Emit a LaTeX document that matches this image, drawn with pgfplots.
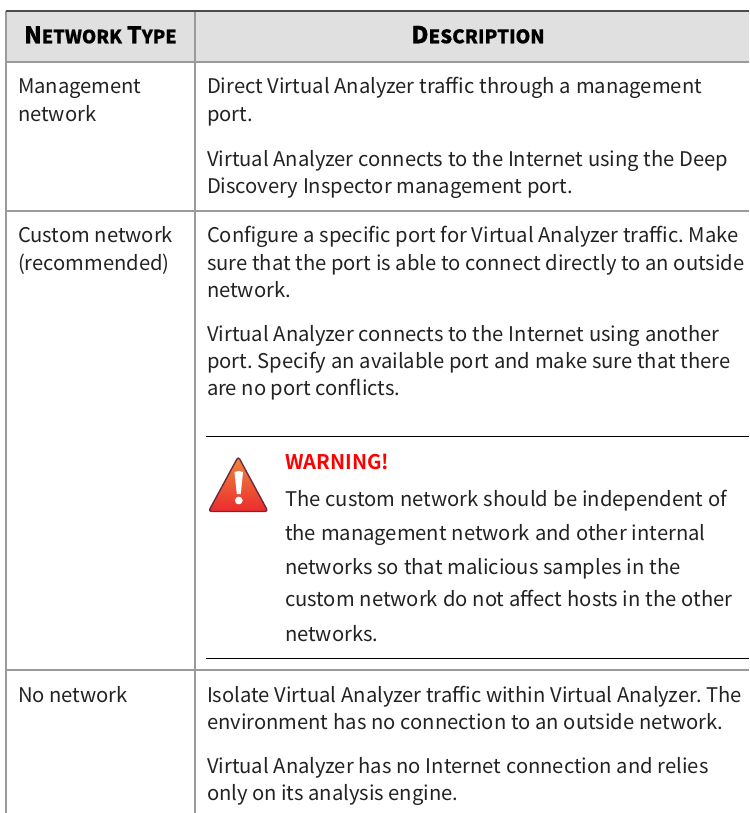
\documentclass[border=0pt]{standalone}
\usepackage{pgfplots}
\pgfplotsset{compat=1.18}
\usepackage{fontspec}
\setmainfont{Noto Sans CJK JP}[BoldFont={Noto Sans CJK JP Bold}]
\newfontfamily\hb{Noto Sans CJK JP Black}[FakeBold=0.6]
\definecolor{hdr}{HTML}{E0E0E0}
\definecolor{rule}{HTML}{9A9A9A}
\definecolor{txt}{HTML}{222222}
\definecolor{icontop}{HTML}{EE8A3C}
\definecolor{iconbot}{HTML}{EC2A2E}
\definecolor{iconedge}{HTML}{6E2A3C}
\frenchspacing
\newcommand{\T}[3]{\node[anchor=base west,inner sep=0pt,outer sep=0pt,text=txt,font=\fontsize{20.2}{20}\selectfont] at (axis cs:#1,#2) {#3};}
\newcommand{\Ln}[4]{\node[anchor=base west,inner sep=0pt,outer sep=0pt,text=txt,font=\fontsize{20.2}{20}\selectfont] at (axis cs:#1,#2) {\pgfmathsetmacro{\lnw}{#3-#1}\spaceskip=0.22em plus 1em minus 0.15em\makebox[\lnw pt][s]{#4}};}
\newcommand{\SC}[2]{{\fontsize{23.4}{20}\selectfont #1}{\fontsize{18.7}{20}\selectfont #2}}
\begin{document}
\begin{tikzpicture}
\useasboundingbox (0,0) rectangle (749pt,813pt);
\begin{axis}[scale only axis,width=749pt,height=813pt,xmin=0,xmax=749,ymin=0,ymax=813,y dir=reverse,hide axis,clip=true,axis line style={draw=none}]
\addplot[fill=hdr,draw=none] coordinates {(6,11)(749,11)(749,62)(6,62)} --cycle;
\addplot[rule,line width=1.2pt] coordinates {(195,11)(195,813)};
\addplot[rule,line width=1.2pt] coordinates {(6,62)(749,62)};
\addplot[rule,line width=1.2pt] coordinates {(6,211)(749,211)};
\addplot[rule,line width=1.2pt] coordinates {(6,670)(749,670)};
\addplot[rule,line width=1.2pt] coordinates {(6,11)(6,813)};
\addplot[black!70,line width=1.5pt] coordinates {(6,11)(749,11)};
\addplot[black,line width=1pt] coordinates {(206,436)(749,436)};
\addplot[black,line width=1pt] coordinates {(206,658.5)(749,658.5)};
\addplot[shade,top color=icontop,bottom color=iconbot,draw=iconedge,line width=1.4pt,line join=round,rounded corners=3pt] coordinates {(238.3,456.5)(268,511.5)(208.5,511.5)} --cycle;
\addplot[fill=white,draw=none] coordinates {(234.5,472)(238.8,471)(243,472)(240.8,494)(236.8,494)} --cycle;
\addplot[only marks,mark=*,mark size=3.6pt,mark options={draw=white,fill=white}] coordinates {(238.8,500.5)};
\node[anchor=base,inner sep=0pt,font=\hb\color{black}] at (axis cs:100.5,43.3) {{\fontsize{23}{20}\selectfont N}{\fontsize{18.2}{20}\selectfont ETWORK}\hspace{5pt}{\fontsize{23}{20}\selectfont T}{\fontsize{18.2}{20}\selectfont YPE}};
\node[anchor=base,inner sep=0pt,font=\hb\color{black}] at (axis cs:478,43.3) {\SC{D}{ESCRIPTION}};
\T{18}{94}{Management}
\T{18}{122}{network}
\Ln{207}{94}{702}{Direct Virtual Analyzer traffic through a management}
\T{207}{122}{port.}
\Ln{207}{166.7}{728.5}{Virtual Analyzer connects to the Internet using the Deep}
\Ln{207}{193.3}{573}{Discovery Inspector management port.}
\Ln{18}{242.7}{173}{Custom network}
\T{18}{270}{(recommended)}
\Ln{207}{242.7}{738.5}{Configure a specific port for Virtual Analyzer traffic. Make}
\Ln{207}{270}{744.5}{sure that the port is able to connect directly to an outside}
\T{207}{297}{network.}
\Ln{207}{341.7}{719.5}{Virtual Analyzer connects to the Internet using another}
\Ln{207}{368.5}{730.5}{port. Specify an available port and make sure that there}
\T{207}{395.5}{are no port conflicts.}
\node[anchor=base west,inner sep=0pt,text=red,font=\fontsize{20.2}{20}\selectfont\bfseries] at (axis cs:285,469) {WARNING!};
\Ln{285}{506.7}{727.5}{The custom network should be independent of}
\Ln{285}{540}{705.5}{the management network and other internal}
\Ln{285}{574}{680.5}{networks so that malicious samples in the}
\Ln{285}{606.7}{732.5}{custom network do not affect hosts in the other}
\T{285}{641}{networks.}
\T{18}{702.7}{No network}
\Ln{207}{702.7}{742}{Isolate Virtual Analyzer traffic within Virtual Analyzer. The}
\Ln{207}{729}{723.5}{environment has no connection to an outside network.}
\Ln{207}{773}{708.5}{Virtual Analyzer has no Internet connection and relies}
\T{207}{800.5}{only on its analysis engine.}
\end{axis}
\end{tikzpicture}
\end{document}
